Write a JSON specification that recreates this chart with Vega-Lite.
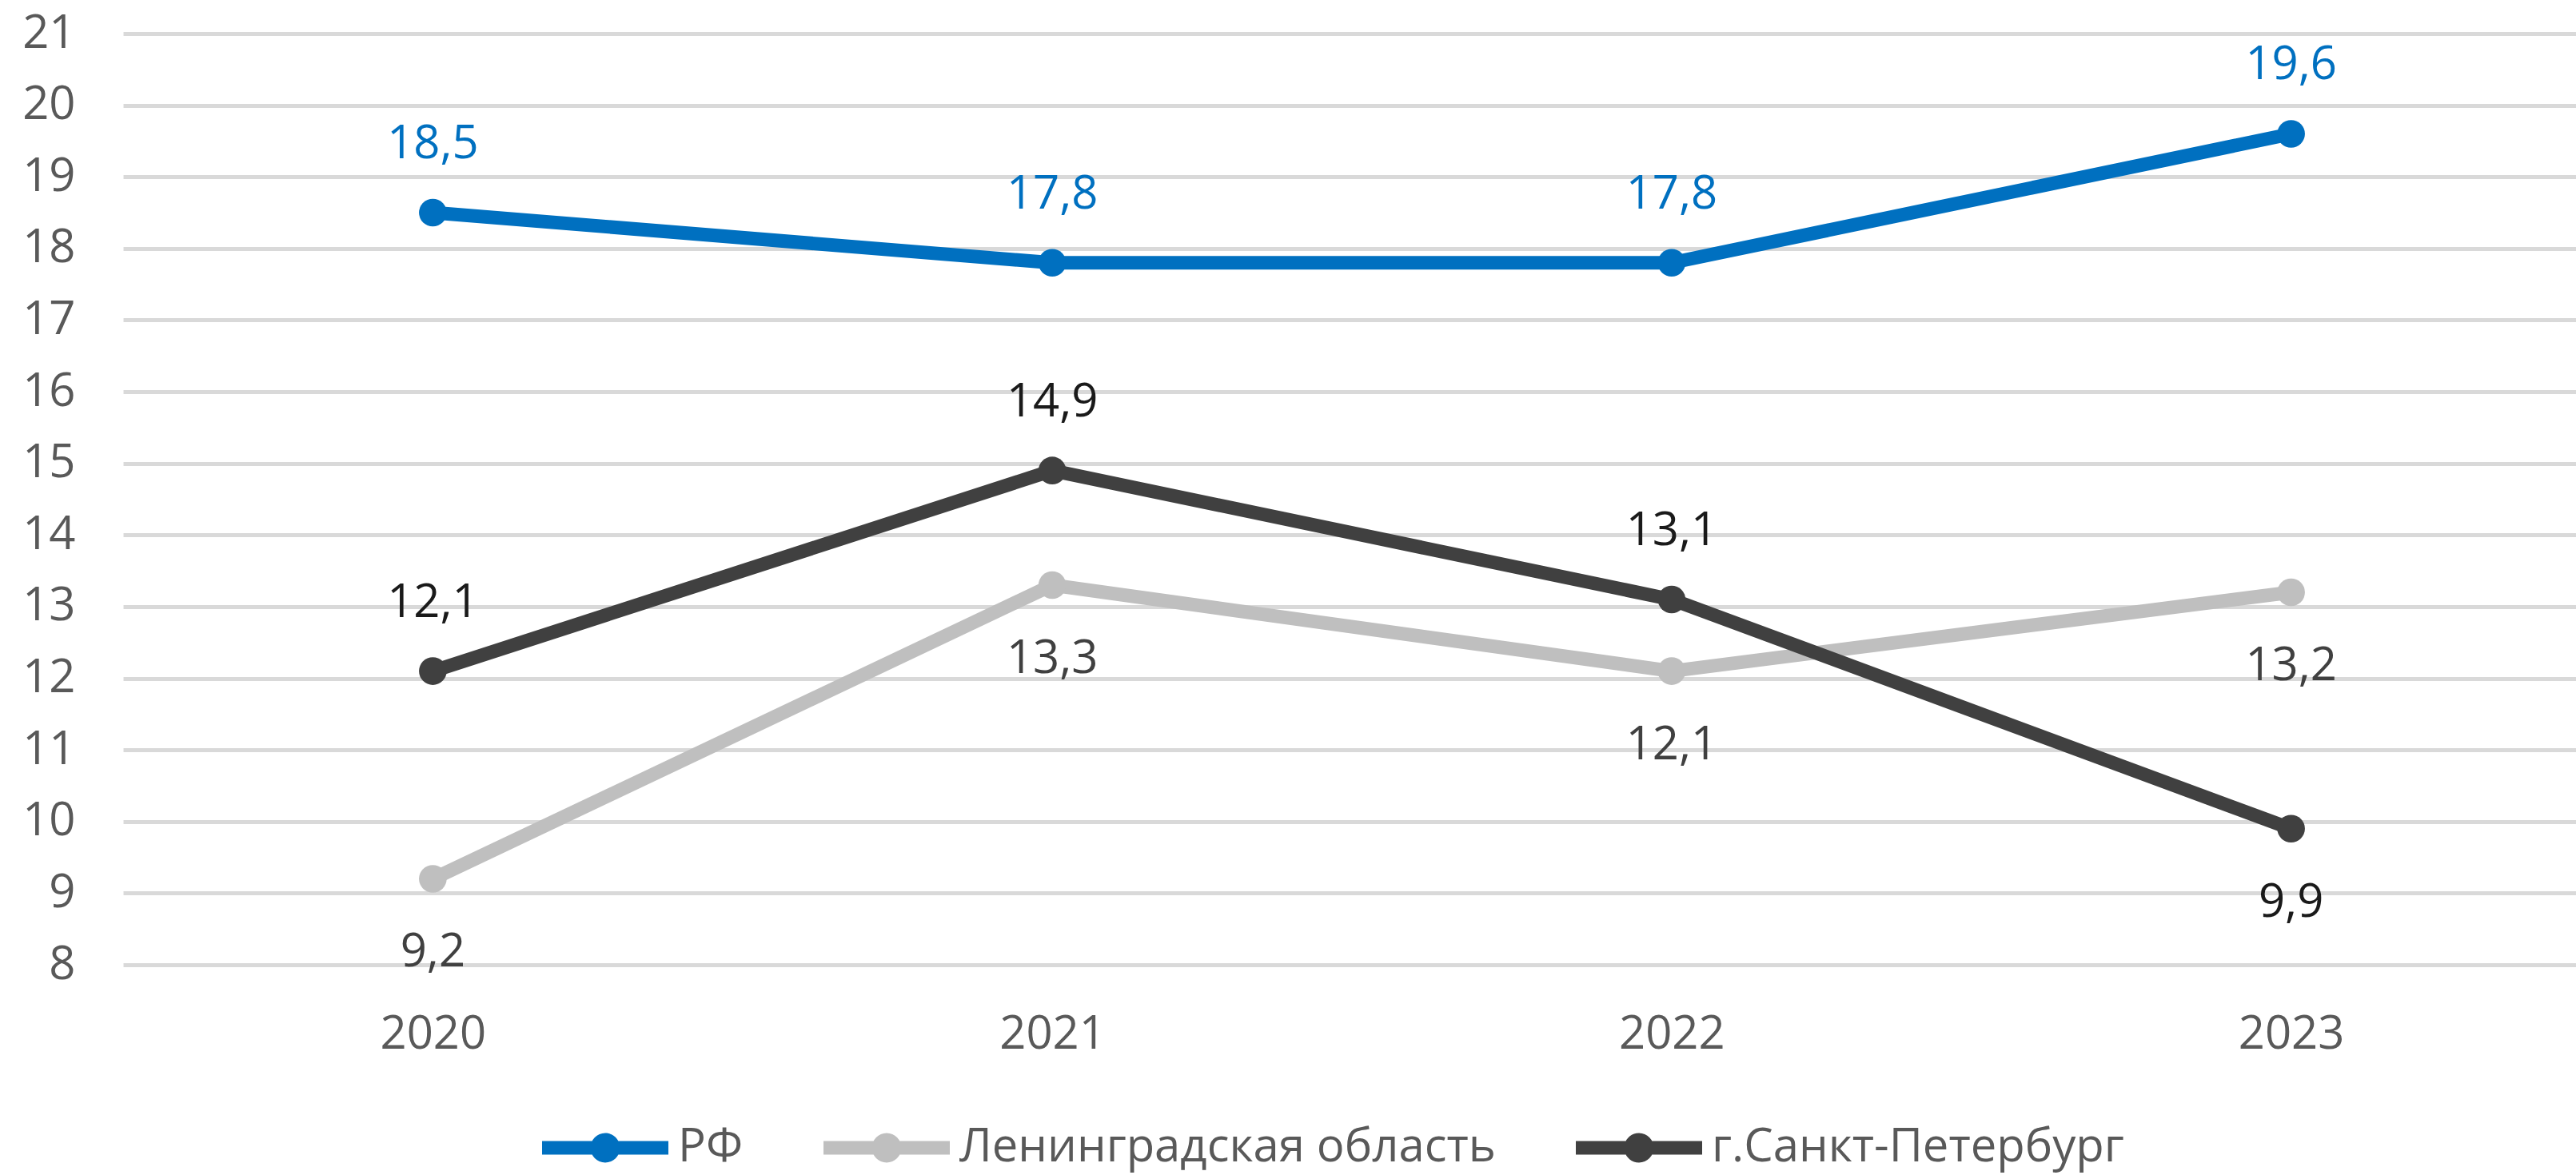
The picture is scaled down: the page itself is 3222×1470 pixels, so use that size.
{
  "$schema": "https://vega.github.io/schema/vega-lite/v6.json",
  "width": 3068,
  "height": 1165,
  "autosize": {"type": "none"},
  "padding": {"left": 154, "top": 42, "right": 0, "bottom": 263},
  "background": "white",
  "config": {
    "locale": {"number": {"decimal": ",", "thousands": " ", "grouping": [3], "currency": ["", ""]}},
    "view": {"stroke": null},
    "font": "Open Sans"
  },
  "data": {
    "values": [
      {"year": "2020", "series": "РФ", "value": 18.5},
      {"year": "2021", "series": "РФ", "value": 17.8},
      {"year": "2022", "series": "РФ", "value": 17.8},
      {"year": "2023", "series": "РФ", "value": 19.6},
      {"year": "2020", "series": "Ленинградская область", "value": 9.2},
      {"year": "2021", "series": "Ленинградская область", "value": 13.3},
      {"year": "2022", "series": "Ленинградская область", "value": 12.1},
      {"year": "2023", "series": "Ленинградская область", "value": 13.2},
      {"year": "2020", "series": "г.Санкт-Петербург", "value": 12.1},
      {"year": "2021", "series": "г.Санкт-Петербург", "value": 14.9},
      {"year": "2022", "series": "г.Санкт-Петербург", "value": 13.1},
      {"year": "2023", "series": "г.Санкт-Петербург", "value": 9.9}
    ]
  },
  "encoding": {
    "x": {
      "field": "year", "type": "ordinal",
      "scale": {"type": "point", "range": [0, 3099], "padding": 0.5},
      "axis": {"title": null, "grid": false, "domain": false, "ticks": false, "labelAngle": 0,
               "labelFontSize": 58, "labelColor": "#595959", "labelPadding": 58, "labelFont": "Open Sans"}
    },
    "y": {
      "field": "value", "type": "quantitative",
      "scale": {"domain": [8, 21], "nice": false, "zero": false},
      "axis": {"title": null, "values": [8,9,10,11,12,13,14,15,16,17,18,19,20,21], "grid": true,
               "gridColor": "#D9D9D9", "gridWidth": 5, "domain": false, "ticks": false,
               "labelFontSize": 58, "labelColor": "#595959", "labelPadding": 60, "labelFont": "Open Sans"}
    }
  },
  "layer": [
    {
      "mark": {"type": "line", "strokeWidth": 17, "strokeJoin": "round"},
      "encoding": {
        "color": {
          "field": "series", "type": "nominal",
          "scale": {"domain": ["РФ", "Ленинградская область", "г.Санкт-Петербург"], "range": ["#0070C0", "#BFBFBF", "#404040"]},
          "legend": {
            "orient": "none", "legendX": 524, "legendY": 1315, "direction": "horizontal", "title": null,
            "padding": 0,
            "symbolType": "M-1,-0.108 L1,-0.108 L1,0.108 L-1,0.108 Z M-0.234,0 A0.234,0.234 0 1,1 0.234,0 A0.234,0.234 0 1,1 -0.234,0 Z",
            "symbolSize": 24964, "symbolStrokeWidth": 0,
            "labelFontSize": 58, "labelColor": "#595959", "labelOffset": 12, "columnPadding": 100, "labelLimit": 2000,
            "labelFont": "Open Sans",
            "encode": {"symbols": {"update": {"fill": {"scale": "color", "field": "value"}, "stroke": {"scale": "color", "field": "value"}, "strokeWidth": {"value": 0}, "opacity": {"value": 1}}}}
          }
        }
      }
    },
    {
      "mark": {"type": "point", "filled": true, "size": 1200, "opacity": 1},
      "encoding": {"color": {"field": "series", "type": "nominal", "legend": null}}
    },
    {
      "transform": [{"filter": "datum.series == 'РФ' || (datum.series == 'г.Санкт-Петербург' && datum.year != '2023')"}],
      "mark": {"type": "text", "dy": -85, "baseline": "middle", "fontSize": 58, "font": "Open Sans"},
      "encoding": {
        "text": {"field": "value", "type": "quantitative", "format": ".1f"},
        "color": {"condition": [{"test": "datum.series == 'РФ'", "value": "#0070C0"}, {"test": "datum.series == 'Ленинградская область'", "value": "#404040"}], "value": "#1A1A1A"}
      }
    },
    {
      "transform": [{"filter": "!(datum.series == 'РФ' || (datum.series == 'г.Санкт-Петербург' && datum.year != '2023'))"}],
      "mark": {"type": "text", "dy": 93, "baseline": "middle", "fontSize": 58, "font": "Open Sans"},
      "encoding": {
        "text": {"field": "value", "type": "quantitative", "format": ".1f"},
        "color": {"condition": [{"test": "datum.series == 'РФ'", "value": "#0070C0"}, {"test": "datum.series == 'Ленинградская область'", "value": "#404040"}], "value": "#1A1A1A"}
      }
    }
  ]
}
